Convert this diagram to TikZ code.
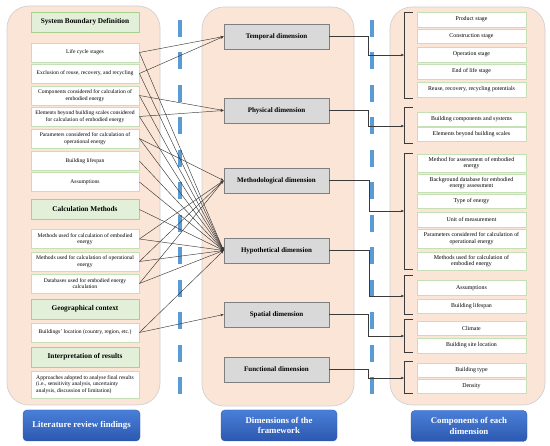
\documentclass[tikz,border=0pt]{standalone}
\usepackage{fontspec}
\setmainfont{Liberation Serif}
\usetikzlibrary{arrows.meta}
\definecolor{panel}{HTML}{FBE5D6}
\definecolor{hdrfill}{HTML}{E2F0D9}
\definecolor{hdrdraw}{HTML}{A9D18E}
\definecolor{boxdraw}{HTML}{C5E0B4}
\definecolor{dimfill}{HTML}{D9D9D9}
\definecolor{dimdraw}{HTML}{7F7F7F}
\definecolor{dashblue}{HTML}{5B9BD5}
\definecolor{btntop}{HTML}{4A80D8}
\definecolor{btnbot}{HTML}{2C58B0}
\definecolor{linec}{HTML}{3A3A3A}
\tikzset{
  panelbox/.style={fill=panel, draw=black!18, line width=0.7pt, rounded corners=22pt},
  hdr/.style={draw=hdrdraw, fill=hdrfill, line width=0.8pt, minimum width=108pt, minimum height=20pt, font=\bfseries\fontsize{7.3}{8.5}\selectfont, inner sep=0pt},
  lbox/.style={draw=boxdraw, fill=white, line width=0.8pt, minimum width=108pt, minimum height=19pt, align=center, font=\fontsize{5.6}{6.6}\selectfont, inner sep=0pt},
  rbox/.style={lbox, minimum width=109pt, font=\fontsize{5.9}{6.8}\selectfont},
  dimbox/.style={draw=dimdraw, fill=dimfill, line width=0.7pt, minimum width=105pt, minimum height=25pt, font=\bfseries\fontsize{7}{8}\selectfont, inner sep=0pt},
  btn/.style={rounded corners=4pt, top color=btntop, bottom color=btnbot, draw=btnbot, text=white, font=\bfseries\fontsize{8.8}{10.5}\selectfont, align=center, minimum width=116pt, minimum height=31pt, inner sep=0pt},
  conn/.style={draw=linec, line width=0.45pt, -{Stealth[length=3.2pt,width=2.6pt]}},
  dashln/.style={dashblue, line width=4.5pt, dash pattern=on 17pt off 15.5pt},
  brk/.style={draw=linec, line width=0.5pt}
}
\begin{document}
\begin{tikzpicture}[x=1pt,y=-1pt]
\useasboundingbox (0,0) rectangle (550,446);
% panels
\path[panelbox] (7,6) rectangle (160,405);
\path[panelbox] (202,7) rectangle (354,406);
\path[panelbox] (390,7) rectangle (545,405);
% dashed separators
\draw[dashln] (180,20) -- (180,395);
\draw[dashln] (372,20) -- (372,395);
% left column
\node[hdr] (sbd) at (85,22) {System Boundary Definition};
\node[lbox] (lcs) at (85,52.5) {Life cycle stages};
\node[lbox] (excl) at (85,73.5) {Exclusion of reuse, recovery, and recycling};
\node[lbox] (comp) at (85,95.5) {Components considered for calculation of\\embodied energy};
\node[lbox] (elem) at (85,116.5) {Elements beyond building scales considered\\for calculation of embodied energy};
\node[lbox] (param) at (85,138.5) {Parameters considered for calculation of\\operational energy};
\node[lbox] (life) at (85,161) {Building lifespan};
\node[lbox] (assu) at (85,182) {Assumptions};
\node[hdr] (calc) at (85,209.5) {Calculation Methods};
\node[lbox] (memb) at (85,239) {Methods used for calculation of embodied\\energy};
\node[lbox] (mop) at (85,261.5) {Methods used for calculation of operational\\energy};
\node[lbox] (db) at (85,283.5) {Databases used for embodied energy\\calculation};
\node[hdr] (geo) at (85,309) {Geographical context};
\node[lbox] (loc) at (85,332.5) {Buildings’ location (country, region, etc.)};
\node[hdr] (interp) at (85,357) {Interpretation of results};
\node[lbox, minimum height=27pt, align=left] (appr) at (85,384.5) {Approaches adopted to analyse final results\\(i.e., sensitivity analysis, uncertainty\\analysis, discussion of limitation)};
\node[btn, minimum width=117pt] (litb) at (81.5,425.5) {Literature review findings};
% middle column
\node[dimbox] (tmp) at (276.5,36.5) {Temporal dimension};
\node[dimbox] (phy) at (276.5,110.5) {Physical dimension};
\node[dimbox] (met) at (276.5,180.5) {Methodological dimension};
\node[dimbox] (hyp) at (276.5,250.5) {Hypothetical dimension};
\node[dimbox] (spa) at (276.5,314.5) {Spatial dimension};
\node[dimbox] (fun) at (276.5,369.5) {Functional dimension};
\node[btn] (dimb) at (279,425.5) {Dimensions of the\\framework};
% right column
\node[rbox, minimum height=15pt] (r1) at (471.5,19.5) {Product stage};
\node[rbox, minimum height=14.5pt] (r2) at (471.5,36.5) {Construction stage};
\node[rbox, minimum height=15pt] (r3) at (471.5,54.5) {Operation stage};
\node[rbox, minimum height=15pt] (r4) at (471.5,71.5) {End of life stage};
\node[rbox, minimum height=15pt] (r5) at (471.5,89.5) {Reuse, recovery, recycling potentials};
\node[rbox, minimum height=14pt] (r6) at (471.5,119) {Building components and systems};
\node[rbox, minimum height=14pt] (r7) at (471.5,134) {Elements beyond building scales};
\node[rbox, minimum height=18pt] (r8) at (471.5,163) {Method for assessment of embodied\\energy};
\node[rbox, minimum height=18pt] (r9) at (471.5,183) {Background database for embodied\\energy assessment};
\node[rbox, minimum height=14pt] (r10) at (471.5,201) {Type of energy};
\node[rbox, minimum height=15pt] (r11) at (471.5,219.5) {Unit of measurement};
\node[rbox, minimum height=19pt] (r12) at (471.5,238.5) {Parameters considered for calculation of\\operational energy};
\node[rbox, minimum height=18pt] (r13) at (471.5,261) {Methods used for calculation of\\embodied energy};
\node[rbox, minimum height=15pt] (r14) at (471.5,288) {Assumptions};
\node[rbox, minimum height=14pt] (r15) at (471.5,306) {Building lifespan};
\node[rbox, minimum height=13.5pt] (r16) at (471.5,328.5) {Climate};
\node[rbox, minimum height=15pt] (r17) at (471.5,345.5) {Building site location};
\node[rbox, minimum height=14pt] (r18) at (471.5,370) {Building type};
\node[rbox, minimum height=14pt] (r19) at (471.5,386) {Density};
\node[btn] (compb) at (469,426) {Components of each\\dimension};
% brackets
\draw[brk] (413,12) -- (404,12) -- (404,98) -- (413,98);
\draw[brk] (413,107) -- (404,107) -- (404,143) -- (413,143);
\draw[brk] (413,153) -- (404,153) -- (404,269) -- (413,269);
\draw[brk] (413,275) -- (404,275) -- (404,314) -- (413,314);
\draw[brk] (413,319) -- (404,319) -- (404,352) -- (413,352);
\draw[brk] (413,361) -- (404,361) -- (404,393) -- (413,393);
\coordinate (bT) at (404,55);
\coordinate (bP) at (404,126);
\coordinate (bM) at (404,211);
\coordinate (bH) at (404,296);
\coordinate (bS) at (404,336);
\coordinate (bF) at (404,378);
% elbow connectors middle -> right
\draw[conn] (tmp.east) -- ++(38.5,0) |- (bT);
\draw[conn] (phy.east) -- ++(38.5,0) |- (bP);
\draw[conn] (met.east) -- ++(40,0) |- (bM);
\draw[conn] (hyp.east) -- ++(40,0) |- (bH);
\draw[conn] (spa.east) -- ++(38.5,0) |- (bS);
\draw[conn] (fun.east) -- ++(38.5,0) |- (bF);
% left -> middle connectors
\foreach \s in {lcs,excl} \draw[conn] (\s.east) -- (tmp.west);
\foreach \s in {comp,elem} \draw[conn] (\s.east) -- (phy.west);
\foreach \s in {param,memb,mop,db} \draw[conn] (\s.east) -- (met.west);
\foreach \s in {lcs,excl,comp,elem,param,life,assu,calc,memb,mop,db,loc} \draw[conn] (\s.east) -- (hyp.west);
\draw[conn] (loc.east) -- (spa.west);
\end{tikzpicture}
\end{document}
